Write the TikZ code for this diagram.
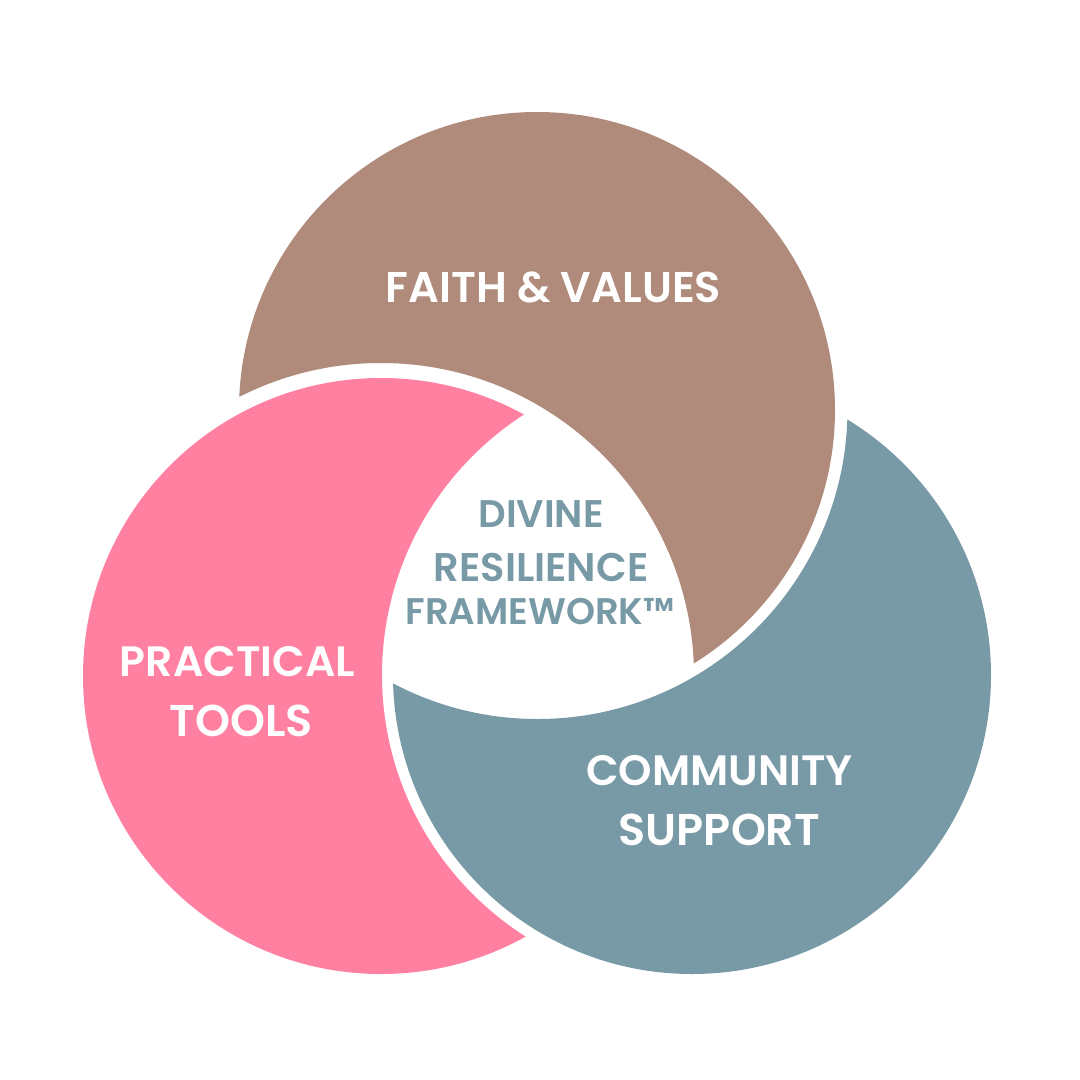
\documentclass[tikz,border=0pt]{standalone}
\usepackage{fontspec}
\setmainfont{Poppins}[BoldFont={Poppins SemiBold}]
\definecolor{brownc}{HTML}{B08B7B}
\definecolor{pinkc}{HTML}{FF80A0}
\definecolor{tealc}{HTML}{7899A6}
\tikzset{
  x=1pt,y=-1pt,
  lab/.style={font=\bfseries\fontsize{#1}{#1}\selectfont,text=white,inner sep=0pt,anchor=center},
  lab/.default=42.5,
  midlab/.style={lab=#1,text=tealc},
}
\begin{document}
\begin{tikzpicture}
\useasboundingbox (0,0) rectangle (1080,1080);
\fill[white] (0,0) rectangle (1080,1080);
\begin{scope}[even odd rule]
  \clip (0,0) rectangle (1080,1080) (381,676) circle[radius=313];
  \fill[brownc] (537,410) circle[radius=298];
\end{scope}
\begin{scope}[even odd rule]
  \clip (0,0) rectangle (1080,1080) (692,675) circle[radius=310];
  \fill[pinkc] (381,676) circle[radius=298];
\end{scope}
\begin{scope}[even odd rule]
  \clip (0,0) rectangle (1080,1080) (537.5,409) circle[radius=310];
  \fill[tealc] (692,675) circle[radius=299];
\end{scope}
\node[lab=43] (faith) at (553.5,287) {FAITH \& VALUES};
\node[lab] (practical) at (237.5,662) {PRACTICAL};
\node[lab=44.5] (tools) at (241.5,721) {TOOLS};
\node[lab] (community) at (719.5,771) {COMMUNITY};
\node[lab=44.5] (support) at (719.5,830) {SUPPORT};
\node[midlab=38.5] (divine) at (541,514) {DIVINE};
\node[midlab=40] (resilience) at (541,567) {RESILIENCE};
\node[midlab=37] (framework) at (540,612) {FRAMEWORK™};
\end{tikzpicture}
\end{document}
